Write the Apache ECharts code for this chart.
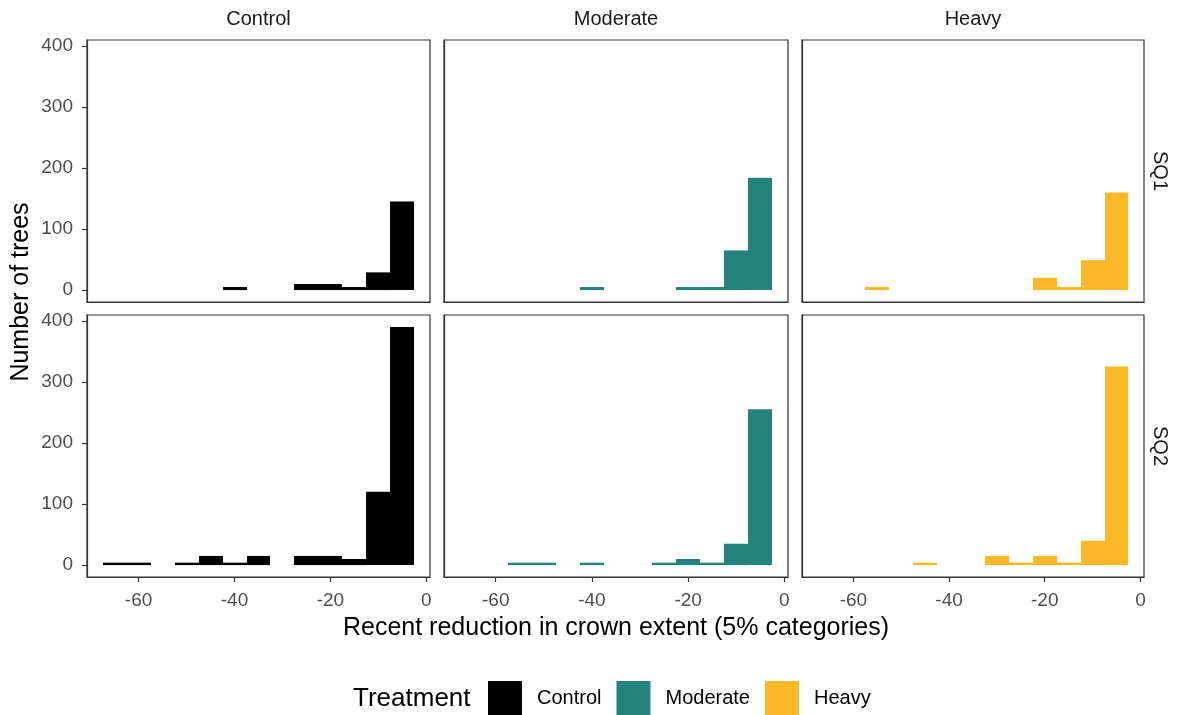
<!DOCTYPE html>
<html>
<head>
<meta charset="utf-8">
<script src="https://cdn.jsdelivr.net/npm/echarts@6/dist/echarts.min.js"></script>
<style>
  html, body { margin: 0; padding: 0; background: #fff; }
  #container { width: 1179px; height: 715px; }
</style>
</head>
<body>
<div id="container"></div>
<script>
// bin centres (5% categories)
const bins = [-65, -60, -55, -50, -45, -40, -35, -30, -25, -20, -15, -10, -5];
const treatments = ['Control', 'Moderate', 'Heavy'];
const sites = ['SQ1', 'SQ2'];
const colors = ['#000000', '#25837E', '#FCB827'];

// counts per bin
const controlSQ1  = [0, 0, 0, 0, 0, 5, 0, 0, 10, 10, 5, 29, 145];
const controlSQ2  = [4, 4, 0, 4, 15, 4, 15, 0, 15, 15, 10, 120, 390];
const moderateSQ1 = [0, 0, 0, 0, 0, 5, 0, 0, 0, 5, 5, 65, 184];
const moderateSQ2 = [0, 0, 4, 4, 0, 4, 0, 0, 4, 10, 4, 35, 255];
const heavySQ1    = [0, 0, 5, 0, 0, 0, 0, 0, 0, 20, 5, 49, 160];
const heavySQ2    = [0, 0, 0, 0, 4, 0, 0, 15, 4, 15, 4, 40, 325];

const xTicks = [-60, -40, -20, 0];
const yTicks = [0, 100, 200, 300, 400];

const counts = [
    [controlSQ1, controlSQ2],
    [moderateSQ1, moderateSQ2],
    [heavySQ1, heavySQ2]
];

const cols = [{left: 87, width: 343}, {left: 444, width: 344}, {left: 802, width: 342}];
const rows = [{top: 40, height: 262}, {top: 315, height: 262}];
const font = 'Liberation Sans, Arial, sans-serif';

function renderBar(params, api) {
    const x = api.value(0), y = api.value(1);
    if (!y) return null;
    const p0 = api.coord([x - 2.5, 0]);
    const p1 = api.coord([x + 2.5, y]);
    const x0 = Math.round(p0[0]), x1 = Math.round(p1[0]);
    return {
        type: 'rect',
        shape: {x: x0, y: p1[1], width: x1 - x0, height: p0[1] - p1[1]},
        style: {fill: api.visual('color')}
    };
}

const grid = [], xAxis = [], yAxis = [], series = [];
let k = 0;
for (let r = 0; r < rows.length; r++) {
    for (let c = 0; c < cols.length; c++) {
        grid.push({
            left: cols[c].left, width: cols[c].width,
            top: rows[r].top, height: rows[r].height,
            show: true, borderColor: '#333', borderWidth: 1.2, backgroundColor: '#fff'
        });
        const bottomRow = r === rows.length - 1;
        const leftCol = c === 0;
        xAxis.push({
            type: 'value', gridIndex: k, min: -70.75, max: 0.75,
            axisLine: {show: true, onZero: false, lineStyle: {color: '#333', width: 1.2}},
            axisTick: {show: bottomRow, length: 5, customValues: xTicks, lineStyle: {color: '#333', width: 1.2}},
            axisLabel: {show: bottomRow, customValues: xTicks, margin: 14, color: '#4D4D4D', fontSize: 19, fontFamily: font},
            splitLine: {show: false}
        });
        yAxis.push({
            type: 'value', gridIndex: k, min: -19.5, max: 409.5,
            axisLine: {show: true, onZero: false, lineStyle: {color: '#333', width: 1.2}},
            axisTick: {show: leftCol, length: 5, customValues: yTicks, lineStyle: {color: '#333', width: 1.2}},
            axisLabel: {show: leftCol, customValues: yTicks, margin: 14, color: '#4D4D4D', fontSize: 19, fontFamily: font},
            splitLine: {show: false}
        });
        series.push({
            type: 'custom', name: treatments[c], xAxisIndex: k, yAxisIndex: k,
            itemStyle: {color: colors[c]},
            encode: {x: 0, y: 1},
            renderItem: renderBar,
            data: bins.map((b, i) => [b, counts[c][r][i]])
        });
        k++;
    }
}

const graphic = [];
// facet strip labels (top)
cols.forEach((col, c) => {
    graphic.push({
        type: 'text', x: col.left + col.width / 2, y: 19,
        style: {text: treatments[c], fill: '#1A1A1A', font: '20px ' + font, align: 'center', verticalAlign: 'middle'}
    });
});
// facet strip labels (right)
rows.forEach((row, r) => {
    graphic.push({
        type: 'text', x: 1160, y: row.top + row.height / 2, rotation: -Math.PI / 2,
        style: {text: sites[r], fill: '#1A1A1A', font: '20px ' + font, align: 'center', verticalAlign: 'middle'}
    });
});
// axis titles
graphic.push({
    type: 'text', x: 616, y: 628,
    style: {text: 'Recent reduction in crown extent (5% categories)', fill: '#000', font: '25px ' + font, align: 'center', verticalAlign: 'middle'}
});
graphic.push({
    type: 'text', x: 21, y: 292, rotation: Math.PI / 2,
    style: {text: 'Number of trees', fill: '#000', font: '25px ' + font, align: 'center', verticalAlign: 'middle'}
});
graphic.push({
    type: 'text', x: 353, y: 699,
    style: {text: 'Treatment', fill: '#000', font: '26px ' + font, align: 'left', verticalAlign: 'middle'}
});

const myChart = echarts.init(document.getElementById('container'));
const option = {
    backgroundColor: '#fff',
    animation: false,
    grid: grid,
    xAxis: xAxis,
    yAxis: yAxis,
    series: series,
    graphic: graphic,
    legend: {
        data: treatments,
        left: 488, top: 681, padding: 0,
        icon: 'rect', itemWidth: 34, itemHeight: 34, itemGap: 15,
        textStyle: {fontSize: 20, fontFamily: font, color: '#000', padding: [0, 0, 0, 10]}
    }
};
myChart.setOption(option);
</script>
</body>
</html>
